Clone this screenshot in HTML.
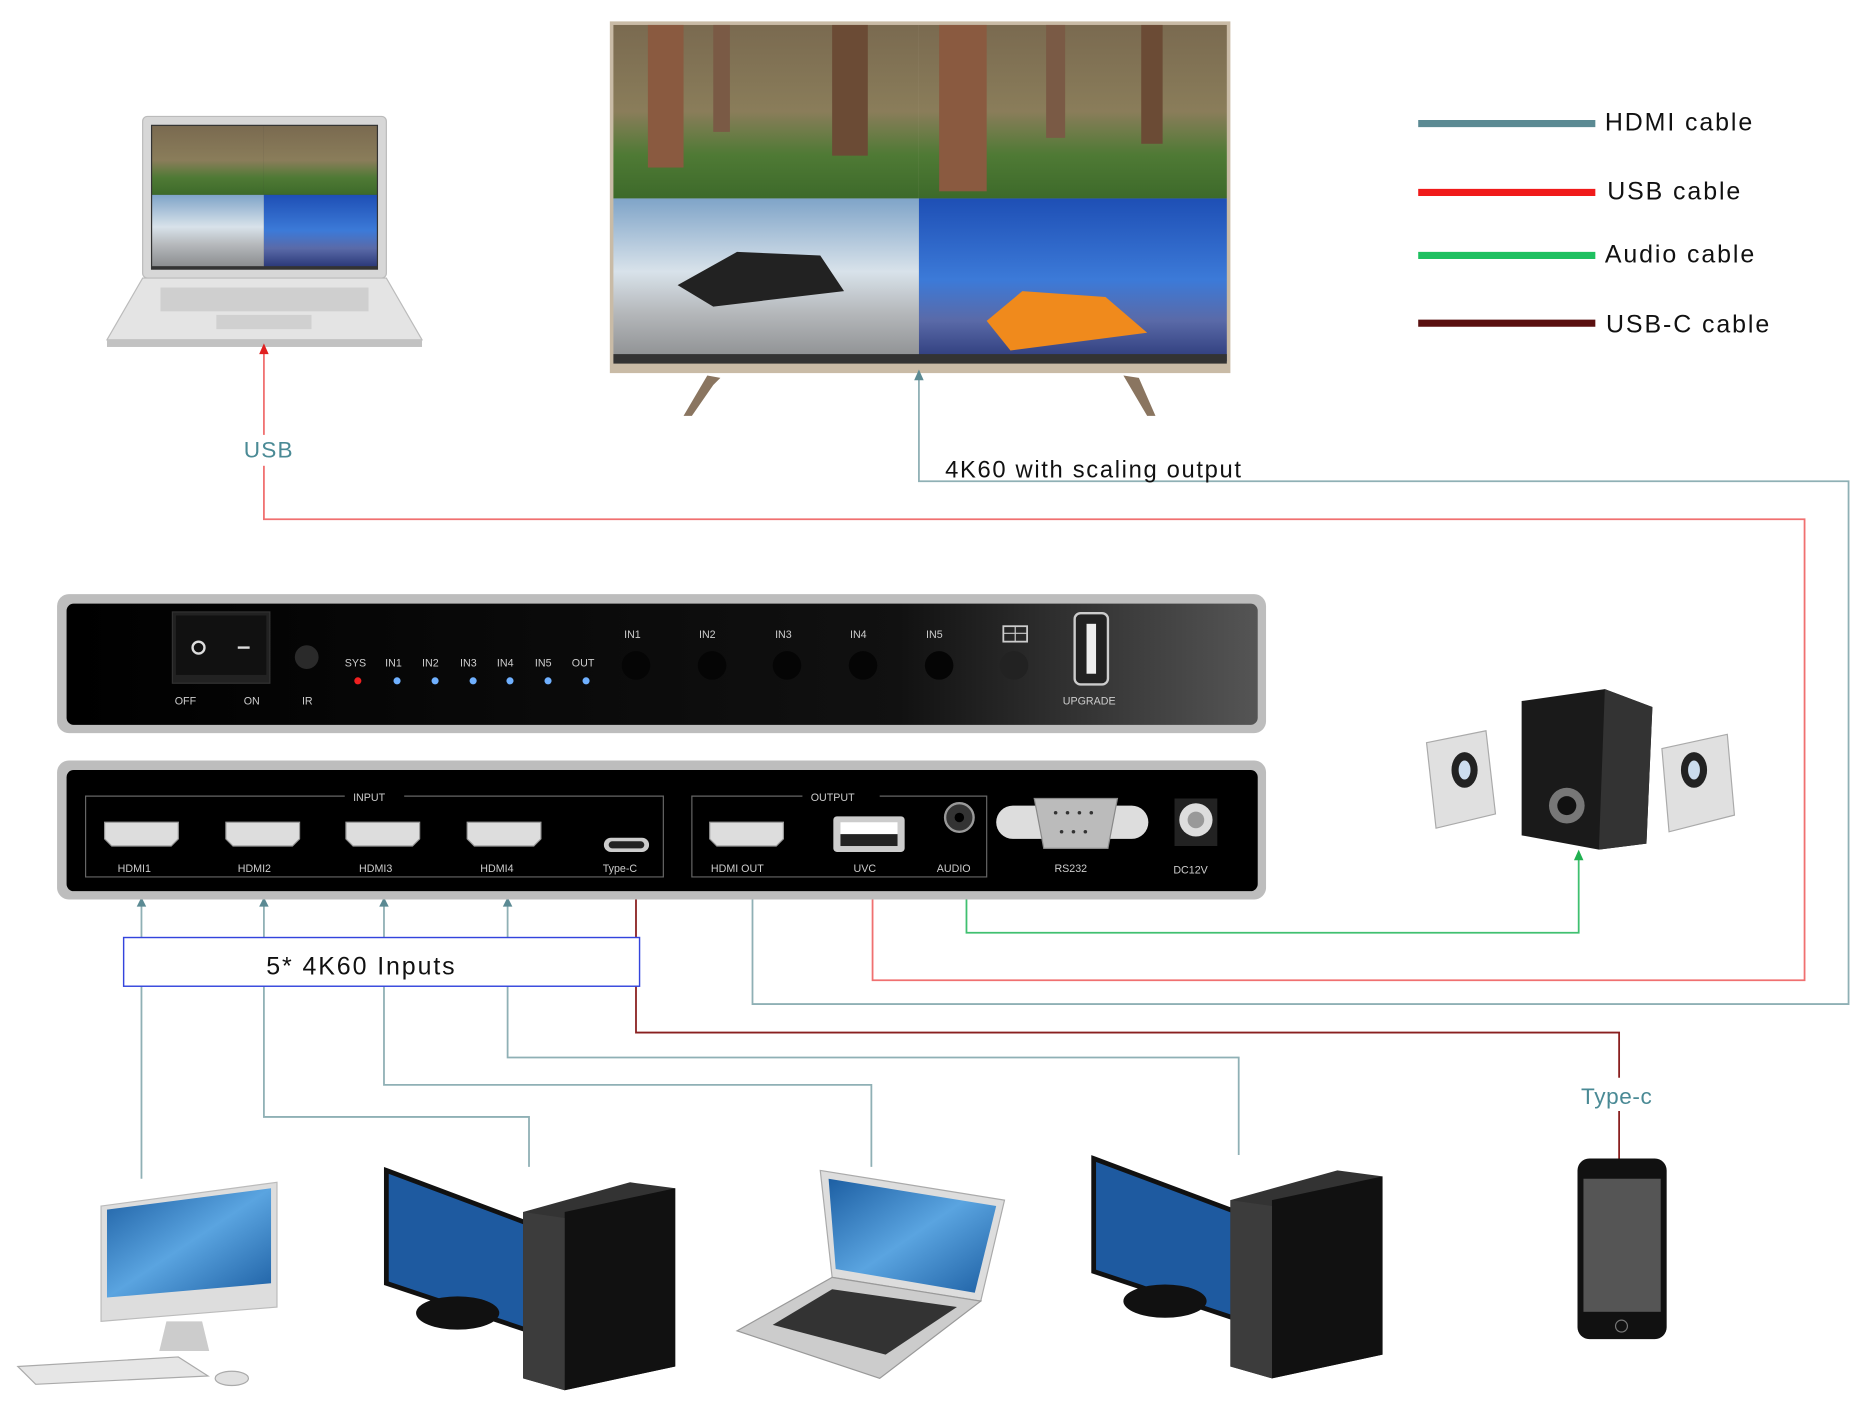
<!DOCTYPE html>
<html><head><meta charset="utf-8"><style>
html,body{margin:0;padding:0;background:#fff;}
svg{display:block;}
text{font-family:"Liberation Sans",sans-serif;}
</style></head><body>
<svg width="1864" height="1414" viewBox="0 0 1568 1190" preserveAspectRatio="none" xmlns="http://www.w3.org/2000/svg">
<defs>
<linearGradient id="dev" x1="0" x2="1"><stop offset="0" stop-color="#000"/><stop offset="0.7" stop-color="#111"/><stop offset="1" stop-color="#555"/></linearGradient>
<linearGradient id="forest" x1="0" y1="0" x2="0" y2="1"><stop offset="0" stop-color="#7a6a50"/><stop offset="0.5" stop-color="#8a7d5a"/><stop offset="0.75" stop-color="#4f7a35"/><stop offset="1" stop-color="#3d6a2a"/></linearGradient>
<linearGradient id="car1" x1="0" y1="0" x2="0" y2="1"><stop offset="0" stop-color="#7fa4c8"/><stop offset="0.45" stop-color="#d8e2ea"/><stop offset="0.7" stop-color="#b5b8bb"/><stop offset="1" stop-color="#8c8e90"/></linearGradient>
<linearGradient id="car2" x1="0" y1="0" x2="0" y2="1"><stop offset="0" stop-color="#1e4fb5"/><stop offset="0.5" stop-color="#3c7ad8"/><stop offset="0.75" stop-color="#5a6aa8"/><stop offset="1" stop-color="#2c3a7a"/></linearGradient>
<linearGradient id="mon" x1="0" y1="0" x2="1" y2="1"><stop offset="0" stop-color="#1d5fa3"/><stop offset="0.5" stop-color="#5aa4e0"/><stop offset="1" stop-color="#1d5fa3"/></linearGradient>
</defs>

<!-- TV -->
<rect x="513" y="18" width="522" height="296" fill="#c9bba6"/>
<rect x="516" y="21" width="257" height="146" fill="url(#forest)"/>
<rect x="773" y="21" width="259" height="146" fill="url(#forest)"/>
<rect x="545" y="21" width="30" height="120" fill="#8a5a40"/><rect x="790" y="21" width="40" height="140" fill="#8a5a40"/><rect x="700" y="21" width="30" height="110" fill="#6b4b35"/>
<rect x="600" y="21" width="14" height="90" fill="#7a5a45"/><rect x="880" y="21" width="16" height="95" fill="#7a5a45"/><rect x="960" y="21" width="18" height="100" fill="#6b4b35"/>
<rect x="516" y="167" width="257" height="137" fill="url(#car1)"/>
<rect x="773" y="167" width="259" height="137" fill="url(#car2)"/>
<path d="M570 240 L620 212 L690 215 L710 245 L600 258 Z" fill="#222"/>
<path d="M830 270 L860 245 L930 250 L965 280 L850 295 Z" fill="#f08a1c"/>
<rect x="516" y="298" width="516" height="8" fill="#333"/>
<path d="M595 316 L575 350 L582 350 L600 324 L606 318 Z" fill="#8a7560"/>
<path d="M945 316 L965 350 L972 350 L958 318 Z" fill="#8a7560"/>

<!-- Laptop top-left -->
<rect x="120" y="98" width="205" height="136" rx="4" fill="#d7d7d7" stroke="#bbb"/>
<rect x="127" y="105" width="191" height="122" fill="#333"/>
<rect x="128" y="106" width="94" height="58" fill="url(#forest)"/><rect x="222" y="106" width="95" height="58" fill="url(#forest)"/>
<rect x="128" y="164" width="94" height="60" fill="url(#car1)"/><rect x="222" y="164" width="95" height="60" fill="url(#car2)"/>
<path d="M120 234 L325 234 L355 286 L90 286 Z" fill="#e4e4e4" stroke="#bbb"/>
<rect x="135" y="242" width="175" height="20" fill="#cfcfcf"/>
<rect x="182" y="265" width="80" height="12" fill="#d0d0d0"/>
<rect x="90" y="286" width="265" height="6" fill="#c2c2c2"/>

<!-- Legend -->
<g stroke-width="6">
<line x1="1193" y1="104" x2="1342" y2="104" stroke="#5b8a93"/>
<line x1="1193" y1="162" x2="1342" y2="162" stroke="#f01a1a"/>
<line x1="1193" y1="215" x2="1342" y2="215" stroke="#1ec060"/>
<line x1="1193" y1="272" x2="1342" y2="272" stroke="#5a1010"/>
</g>
<g font-size="21" fill="#111" letter-spacing="1.6">
<text x="1350" y="110">HDMI cable</text>
<text x="1352" y="168">USB cable</text>
<text x="1350" y="221">Audio cable</text>
<text x="1351" y="280">USB-C cable</text>
</g>

<!-- Connectors -->
<g fill="none" stroke-width="1.5">
<polyline points="222,296 222,437 1518,437 1518,825 734,825 734,745" stroke="#f07070"/>
<polyline points="773,318 773,405 1555,405 1555,845 633,845 633,745" stroke="#8fb0b5"/>
<polyline points="813,745 813,785 1328,785 1328,722" stroke="#40c070"/>
<polyline points="535,750 535,869 1362,869 1362,908" stroke="#8a2020"/>
<line x1="1362" y1="935" x2="1362" y2="975" stroke="#8a2020"/>
<polyline points="119,762 119,992" stroke="#8fb0b5"/>
<polyline points="222,762 222,940 445,940 445,982" stroke="#8fb0b5"/>
<polyline points="323,762 323,913 733,913 733,982" stroke="#8fb0b5"/>
<polyline points="427,762 427,890 1042,890 1042,972" stroke="#8fb0b5"/>
</g>
<path d="M222 289 L218 298 L226 298 Z" fill="#e02020"/>
<path d="M773 311 L769 320 L777 320 Z" fill="#5b8a93"/>
<path d="M1328 715 L1324 724 L1332 724 Z" fill="#20b050"/>
<g fill="#5b8a93"><path d="M119 755 l-4 8 h8z"/><path d="M222 755 l-4 8 h8z"/><path d="M323 755 l-4 8 h8z"/><path d="M427 755 l-4 8 h8z"/></g>
<path d="M535 745 l-4 8 h8z" fill="#8a1010"/>
<rect x="200" y="366" width="50" height="26" fill="#fff"/>
<text x="205" y="385" font-size="19" fill="#4a8a95" letter-spacing="1">USB</text>
<text x="795" y="402" font-size="20" fill="#111" letter-spacing="1.4">4K60 with scaling output</text>
<rect x="104" y="789" width="434" height="41" fill="#fff" stroke="#3344dd" stroke-width="1.2"/>
<text x="224" y="820" font-size="21" fill="#111" letter-spacing="1.6">5* 4K60 Inputs</text>
<rect x="1325" y="907" width="75" height="28" fill="#fff"/>
<text x="1330" y="929" font-size="19" fill="#4a8a95" letter-spacing="0.5">Type-c</text>

<!-- Front panel -->
<rect x="48" y="500" width="1017" height="117" rx="10" fill="#bdbdbd"/>
<rect x="56" y="508" width="1002" height="102" rx="6" fill="url(#dev)"/>
<rect x="145" y="515" width="82" height="60" fill="#222" stroke="#333"/>
<rect x="148" y="518" width="76" height="50" fill="#111"/>
<circle cx="167" cy="545" r="5" fill="none" stroke="#ddd" stroke-width="2"/>
<line x1="200" y1="545" x2="210" y2="545" stroke="#ddd" stroke-width="2"/>
<circle cx="258" cy="553" r="10" fill="#2a2a2a"/>
<g font-size="9" fill="#ccc">
<text x="147" y="593">OFF</text><text x="205" y="593">ON</text><text x="254" y="593">IR</text>
<text x="290" y="561">SYS</text><text x="324" y="561">IN1</text><text x="355" y="561">IN2</text><text x="387" y="561">IN3</text><text x="418" y="561">IN4</text><text x="450" y="561">IN5</text><text x="481" y="561">OUT</text>
<text x="525" y="537">IN1</text><text x="588" y="537">IN2</text><text x="652" y="537">IN3</text><text x="715" y="537">IN4</text><text x="779" y="537">IN5</text>
<text x="894" y="593">UPGRADE</text>
</g>
<circle cx="301" cy="573" r="3" fill="#f02020"/>
<g fill="#6fb0ff"><circle cx="334" cy="573" r="3"/><circle cx="366" cy="573" r="3"/><circle cx="398" cy="573" r="3"/><circle cx="429" cy="573" r="3"/><circle cx="461" cy="573" r="3"/><circle cx="493" cy="573" r="3"/></g>
<g fill="#050505"><circle cx="535" cy="560" r="12"/><circle cx="599" cy="560" r="12"/><circle cx="662" cy="560" r="12"/><circle cx="726" cy="560" r="12"/><circle cx="790" cy="560" r="12"/><circle cx="853" cy="560" r="12" fill="#222"/></g>
<rect x="844" y="527" width="20" height="13" fill="none" stroke="#ccc" stroke-width="1.5"/><line x1="854" y1="527" x2="854" y2="540" stroke="#ccc"/><line x1="844" y1="533" x2="864" y2="533" stroke="#ccc"/>
<rect x="904" y="516" width="28" height="60" rx="5" fill="#222" stroke="#ccc" stroke-width="2"/>
<rect x="914" y="525" width="8" height="42" fill="#eee"/>

<!-- Rear panel -->
<rect x="48" y="640" width="1017" height="117" rx="10" fill="#bdbdbd"/>
<rect x="56" y="648" width="1002" height="102" rx="6" fill="#000"/>
<path d="M290 670 H72 V738 H558 V670 H340" fill="none" stroke="#666"/>
<path d="M675 670 H582 V738 H830 V670 H740" fill="none" stroke="#666"/>
<g font-size="9" fill="#ccc">
<text x="297" y="674">INPUT</text><text x="682" y="674">OUTPUT</text>
<text x="99" y="734">HDMI1</text><text x="200" y="734">HDMI2</text><text x="302" y="734">HDMI3</text><text x="404" y="734">HDMI4</text><text x="507" y="734">Type-C</text>
<text x="598" y="734">HDMI OUT</text><text x="718" y="734">UVC</text><text x="788" y="734">AUDIO</text><text x="887" y="734">RS232</text><text x="987" y="735">DC12V</text>
</g>
<g fill="#ddd" stroke="#999"><path d="M88 692 h62 v14 l-6 6 h-50 l-6 -6z"/><path d="M190 692 h62 v14 l-6 6 h-50 l-6 -6z"/><path d="M291 692 h62 v14 l-6 6 h-50 l-6 -6z"/><path d="M393 692 h62 v14 l-6 6 h-50 l-6 -6z"/><path d="M597 692 h62 v14 l-6 6 h-50 l-6 -6z"/></g>
<rect x="508" y="705" width="38" height="12" rx="6" fill="#ccc"/><rect x="512" y="708" width="30" height="6" rx="3" fill="#222"/>
<rect x="701" y="687" width="60" height="30" rx="3" fill="#ccc"/><rect x="707" y="692" width="48" height="10" fill="#fff"/><rect x="707" y="702" width="48" height="10" fill="#222"/>
<circle cx="807" cy="688" r="12" fill="#333" stroke="#999" stroke-width="2"/><circle cx="807" cy="688" r="4" fill="#000"/>
<path d="M838 692 a14 14 0 0 1 14 -14 h100 a14 14 0 0 1 0 28 h-100 a14 14 0 0 1 -14 -14z" fill="#ddd"/>
<path d="M870 672 h70 l-8 42 h-54z" fill="#bbb" stroke="#888"/>
<g fill="#333"><circle cx="888" cy="684" r="1.5"/><circle cx="898" cy="684" r="1.5"/><circle cx="908" cy="684" r="1.5"/><circle cx="918" cy="684" r="1.5"/><circle cx="893" cy="700" r="1.5"/><circle cx="903" cy="700" r="1.5"/><circle cx="913" cy="700" r="1.5"/></g>
<rect x="988" y="672" width="36" height="40" fill="#222"/><circle cx="1006" cy="690" r="14" fill="#ddd"/><circle cx="1006" cy="690" r="7" fill="#999"/>

<!-- Speakers -->
<path d="M1200 625 l50 -10 l8 70 l-50 12z" fill="#e0e0e0" stroke="#aaa"/>
<ellipse cx="1232" cy="648" rx="11" ry="15" fill="#222"/><ellipse cx="1232" cy="648" rx="5" ry="8" fill="#cde"/>
<path d="M1280 590 l70 -10 l40 15 l-5 115 l-40 5 l-65 -12z" fill="#1a1a1a"/>
<path d="M1350 580 l40 15 l-5 115 l-40 5z" fill="#333"/>
<circle cx="1318" cy="678" r="15" fill="#777"/><circle cx="1318" cy="678" r="8" fill="#111"/>
<path d="M1398 630 l55 -12 l6 68 l-55 14z" fill="#e0e0e0" stroke="#aaa"/>
<ellipse cx="1425" cy="648" rx="11" ry="15" fill="#222"/><ellipse cx="1425" cy="648" rx="5" ry="8" fill="#cde"/>

<!-- iMac -->
<path d="M85 1015 L233 995 L233 1100 L85 1112 Z" fill="#ddd" stroke="#bbb"/>
<path d="M90 1018 L228 1000 L228 1080 L90 1092 Z" fill="url(#mon)"/>
<path d="M140 1112 h30 l6 25 h-42z" fill="#ccc"/>
<path d="M15 1150 L150 1142 L175 1158 L30 1165 Z" fill="#e6e6e6" stroke="#aaa"/>
<ellipse cx="195" cy="1160" rx="14" ry="6" fill="#e0e0e0" stroke="#aaa"/>

<!-- PC 1 -->
<path d="M325 985 L445 1030 L445 1120 L325 1080 Z" fill="#1e5aa0" stroke="#111" stroke-width="4"/>
<ellipse cx="385" cy="1105" rx="35" ry="14" fill="#111"/>
<path d="M440 1020 L530 995 L568 1000 L568 1150 L475 1170 L440 1160 Z" fill="#333"/>
<path d="M475 1020 L568 1000 L568 1150 L475 1170 Z" fill="#111"/>
<path d="M440 1020 L475 1025 L475 1170 L440 1160 Z" fill="#3c3c3c"/>

<!-- Laptop bottom -->
<path d="M690 985 L845 1010 L825 1095 L700 1075 Z" fill="#ddd" stroke="#aaa"/>
<path d="M697 992 L838 1015 L820 1088 L703 1068 Z" fill="url(#mon)"/>
<path d="M700 1075 L825 1095 L740 1160 L620 1120 Z" fill="#ccc" stroke="#999"/>
<path d="M700 1085 L805 1100 L745 1140 L650 1115 Z" fill="#333"/>

<!-- PC 2 -->
<path d="M920 975 L1040 1020 L1040 1110 L920 1070 Z" fill="#1e5aa0" stroke="#111" stroke-width="4"/>
<ellipse cx="980" cy="1095" rx="35" ry="14" fill="#111"/>
<path d="M1035 1010 L1125 985 L1163 990 L1163 1140 L1070 1160 L1035 1150 Z" fill="#333"/>
<path d="M1070 1010 L1163 990 L1163 1140 L1070 1160 Z" fill="#111"/>
<path d="M1035 1010 L1070 1015 L1070 1160 L1035 1150 Z" fill="#3c3c3c"/>

<!-- Phone -->
<rect x="1327" y="975" width="75" height="152" rx="10" fill="#111"/>
<rect x="1332" y="992" width="65" height="112" fill="#555"/>
<circle cx="1364" cy="1116" r="5" fill="none" stroke="#777"/>
</svg>
</body></html>
